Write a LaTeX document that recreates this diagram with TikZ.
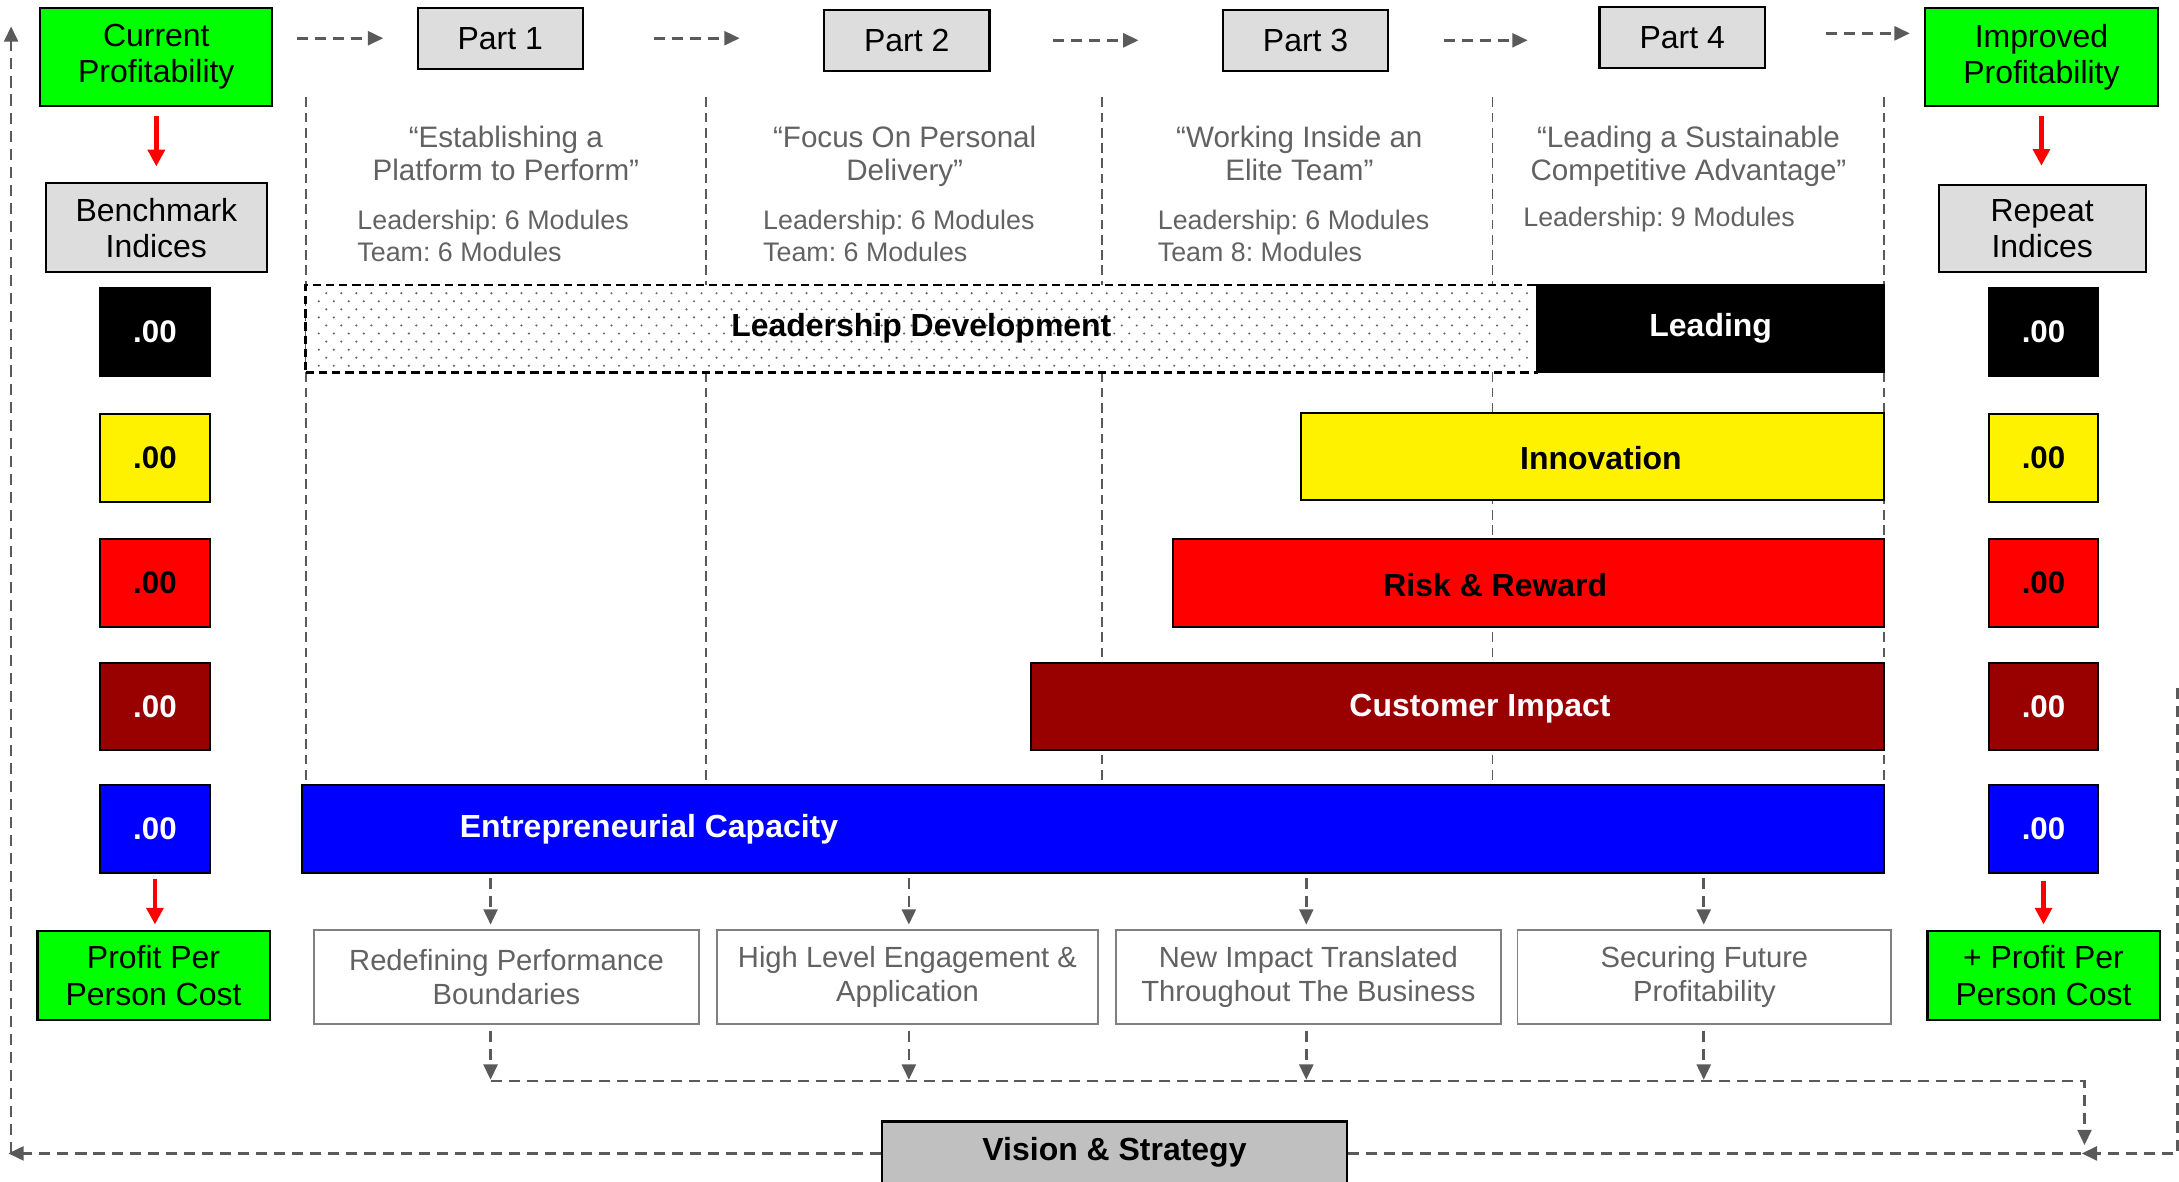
\documentclass[tikz,border=0pt]{standalone}
\usepackage{fontspec}
\setmainfont{Liberation Sans}
\usetikzlibrary{arrows.meta}
\frenchspacing

\definecolor{brightgreen}{HTML}{00FF00}
\definecolor{partgray}{HTML}{DDDDDD}
\definecolor{visiongray}{HTML}{C0C0C0}
\definecolor{darkred}{HTML}{990000}
\definecolor{flowgray}{HTML}{5A5A5A}
\definecolor{textgray}{HTML}{626262}
\definecolor{boxgray}{HTML}{808080}
\definecolor{dotgray}{HTML}{666666}

\tikzset{
  base/.style={draw=black, line width=1.5pt, inner sep=0pt, align=center,
    font=\fontsize{23}{26}\selectfont},
  greenbox/.style={base, fill=brightgreen, minimum width=167pt, minimum height=70pt},
  graybox/.style={base, fill=partgray},
  partbox/.style={graybox, minimum width=119pt, minimum height=44pt},
  valbox/.style={base, minimum width=79pt, minimum height=63pt,
    font=\bfseries\fontsize{22.5}{26}\selectfont},
  bar/.style={base, minimum height=63pt},
  barlabel/.style={inner sep=0pt, font=\bfseries\fontsize{23}{26}\selectfont},
  outcome/.style={draw=boxgray, line width=1.3pt, minimum height=68pt, inner sep=0pt,
    align=center, text=textgray, font=\fontsize{21}{24}\selectfont},
  quote/.style={text=textgray, align=center, inner sep=0pt,
    font=\fontsize{21.3}{24}\selectfont,
    execute at begin node=\strut, execute at end node=\strut},
  detail/.style={text=textgray, align=left, inner sep=0pt, anchor=west,
    font=\fontsize{19.3}{23}\selectfont},
  flow/.style={draw=flowgray, line width=1.9pt, dash pattern=on 8pt off 5pt},
  flowarrow/.style={flow, -{Triangle[length=11pt,width=10pt]}},
  redarrow/.style={draw=red, line width=3.5pt, -{Triangle[length=12pt,width=12pt]}},
  colline/.style={draw=flowgray, line width=1.4pt, dash pattern=on 7pt off 4pt},
}

\begin{document}
\begin{tikzpicture}[x=1pt,y=-1pt]
\useasboundingbox (0,0) rectangle (1568,850);

% phase separators
\foreach \cx in {220,508,793,1074,1356}
  \draw[colline] (\cx,70) -- (\cx,562);

% top row: start, parts, result
\node[greenbox] (cur) at (112.5,41) {Current\\Profitability};
\node[partbox] (p1) at (360,27.5) {Part 1};
\node[partbox] (p2) at (652.5,29) {Part 2};
\node[partbox] (p3) at (939.5,29) {Part 3};
\node[partbox] (p4) at (1210.5,27) {Part 4};
\node[greenbox, minimum width=168pt] (imp) at (1469,41) {Improved\\Profitability};

\draw[flowarrow, shorten <=17pt, shorten >=24pt] (cur.east |- p1.west) -- (p1.west);
\draw[flowarrow, shorten <=50pt, shorten >=60pt] (p1.east) -- (p1.east -| p2.west);
\draw[flowarrow, shorten <=45pt, shorten >=60pt] (p2.east) -- (p3.west);
\draw[flowarrow, shorten <=39pt, shorten >=51pt] (p3.east) -- (p3.east -| p4.west);
\coordinate (p4out) at ([yshift=3pt]p4.east);
\draw[flowarrow, shorten <=43pt, shorten >=10pt] (p4out) -- (p4out -| imp.west);

% phase descriptions
\node[quote] (q1) at (364,114) {“Establishing a\\Platform to Perform”};
\node[quote] (q2) at (651,114) {“Focus On Personal\\Delivery”};
\node[quote] (q3) at (935,114) {“Working Inside an\\Elite Team”};
\node[quote] (q4) at (1215,114) {“Leading a Sustainable\\Competitive Advantage”};
\node[detail] (m1) at (257,169.5) {Leadership: 6 Modules\\Team: 6 Modules};
\node[detail] (m2) at (549,169.5) {Leadership: 6 Modules\\Team: 6 Modules};
\node[detail] (m3) at (833,169.5) {Leadership: 6 Modules\\Team 8: Modules};
\node[detail] (m4) at (1096,158) {Leadership: 9 Modules};

% index headers
\node[graybox, minimum width=159pt, minimum height=64pt] (bench) at (112.5,164) {Benchmark\\Indices};
\node[graybox, minimum width=149pt, minimum height=63pt] (rep) at (1469.5,164.5) {Repeat\\Indices};
\draw[redarrow, shorten <=6.5pt, shorten >=11.5pt] (cur.south) -- (cur.south |- bench.north);
\draw[redarrow, shorten <=6.5pt, shorten >=13pt] (imp.south) -- (imp.south |- rep.north);

% index values
\node[valbox, fill=black, text=white]   (lv1) at (111.5,239)   {.00};
\node[valbox, fill=yellow, text=black]  (lv2) at (111.5,329.5) {.00};
\node[valbox, fill=red, text=black]     (lv3) at (111.5,419.5) {.00};
\node[valbox, fill=darkred, text=white] (lv4) at (111.5,508.5) {.00};
\node[valbox, fill=blue, text=white]    (lv5) at (111.5,596.5) {.00};
\node[valbox, fill=black, text=white]   (rv1) at (1470.5,239)   {.00};
\node[valbox, fill=yellow, text=black]  (rv2) at (1470.5,329.5) {.00};
\node[valbox, fill=red, text=black]     (rv3) at (1470.5,419.5) {.00};
\node[valbox, fill=darkred, text=white] (rv4) at (1470.5,508.5) {.00};
\node[valbox, fill=blue, text=white]    (rv5) at (1470.5,596.5) {.00};

% programme bars
\node[bar, fill=white, draw=black, line width=1.9pt, dash pattern=on 6pt off 3.5pt,
      minimum width=886pt] (ld) at (663,236.5) {};
\begin{scope}
  \clip (225,209.5) rectangle (1102,264.5);
  \foreach \r in {0,...,9}
    \foreach \c in {0,...,82}
      \fill[dotgray] ({224+10.8*\c+5.4*mod(\r,2)},{211+5.8*\r}) circle (0.85pt);
\end{scope}
\node[bar, fill=black, minimum width=250pt] (lead) at (1231,236.5) {};
\node[bar, fill=yellow, minimum width=420pt] (inn) at (1146,328.5) {};
\node[bar, fill=red, minimum width=512pt] (rr) at (1100,419.5) {};
\node[bar, fill=darkred, minimum width=614pt] (ci) at (1049,508.5) {};
\node[bar, fill=blue, minimum width=1139pt] (ec) at (786.5,596.5) {};

\node[barlabel] (ldt) at (663,236.5) {Leadership Development};
\node[barlabel, text=white] (leadt) at (1231,236.5) {Leading};
\node[barlabel] (innt) at (1152,329.5) {Innovation};
\node[barlabel] (rrt) at (1076,421) {Risk \& Reward};
\node[barlabel, text=white] (cit) at (1065,510) {Customer Impact};
\node[barlabel, text=white] (ect) at (467,597) {Entrepreneurial Capacity};

% per person results
\node[greenbox, minimum height=64pt] (ppl) at (110.5,702) {Profit Per\\Person Cost};
\node[greenbox, minimum height=64pt] (ppr) at (1470.5,702) {+ Profit Per\\Person Cost};
\draw[redarrow, shorten <=4pt, shorten >=4pt] (lv5.south) -- (lv5.south |- ppl.north);
\draw[redarrow, shorten <=5pt, shorten >=4pt] (rv5.south) -- (rv5.south |- ppr.north);

% outcomes
\node[outcome, minimum width=277pt] (o1) at (364.5,703) {Redefining Performance\\Boundaries};
\node[outcome, minimum width=274pt] (o2) at (653,703) {High Level Engagement \&\\Application};
\node[outcome, minimum width=277pt] (o3) at (941.5,703) {New Impact Translated\\Throughout The Business};
\node[outcome, minimum width=269pt] (o4) at (1226.5,703) {Securing Future\\Profitability};

\coordinate (d1) at (353,0);
\coordinate (d2) at (654,0);
\coordinate (d3) at (940,0);
\coordinate (d4) at (1226,0);
\coordinate (bus) at (0,778);
\coordinate (join) at (1500,830);
\coordinate (rtop) at (1567,495);
\coordinate (lcorner) at (8,830);
\coordinate (ltop) at (8,19);

\foreach \d/\o in {d1/o1,d2/o2,d3/o3,d4/o4}{
  \draw[flowarrow, shorten <=3pt, shorten >=3pt] (\d |- ec.south) -- (\d |- \o.north);
  \draw[flowarrow, shorten <=4pt, shorten >=1pt] (\d |- \o.south) -- (\d |- bus);
}

% feedback loop
\node[base, fill=visiongray, minimum width=334pt, minimum height=46pt] (vis) at (802,830) {};
\node[barlabel] (vist) at (802,829) {Vision \& Strategy};

\draw[flowarrow, shorten >=6pt] (d1 |- bus) -- (join |- bus) -- (join);
\draw[flowarrow, shorten >=-2pt] (rtop) -- (rtop |- join) -- (join);
\draw[flow] (vis.east |- join) -- (join);
\draw[flowarrow, shorten >=-2pt] (vis.west |- lcorner) -- (lcorner);
\draw[flowarrow] (lcorner) -- (ltop);
\end{tikzpicture}
\end{document}
